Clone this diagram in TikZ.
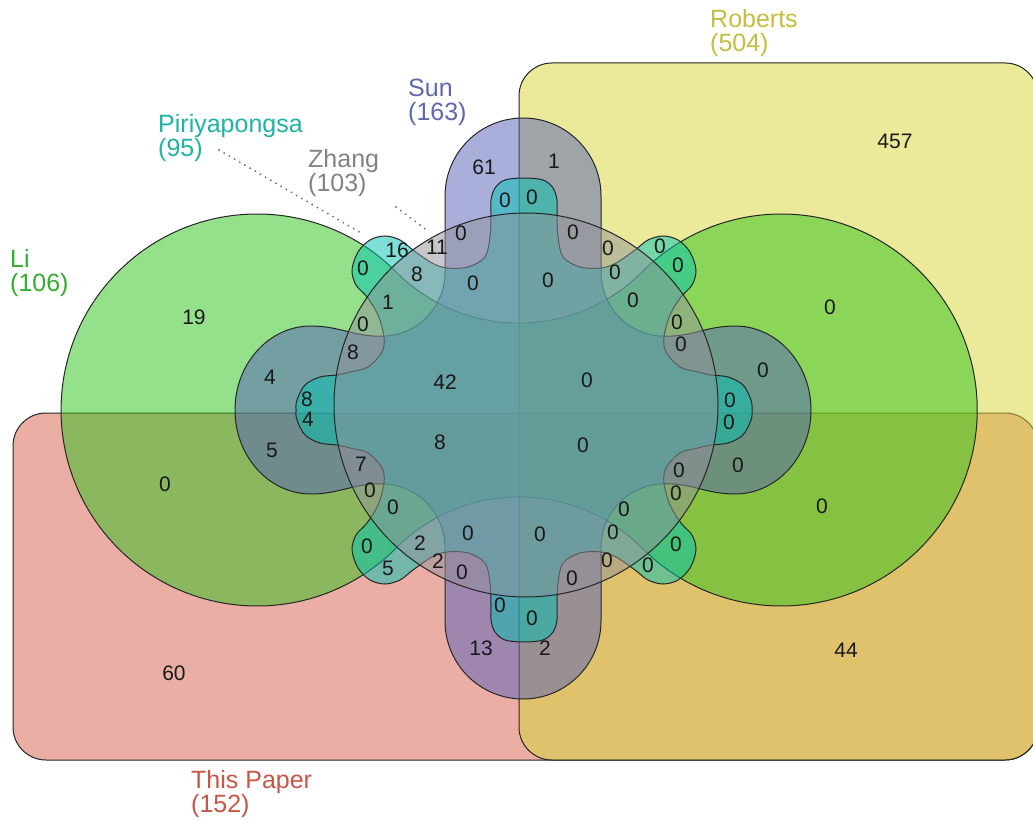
\documentclass[tikz,border=0pt]{standalone}
\usepackage{fontspec}
\setmainfont{Liberation Sans}
% set colours
\definecolor{tpcol}{RGB}{215,95,75}
\definecolor{robcol}{RGB}{215,215,55}
\definecolor{licol}{RGB}{45,195,25}
\definecolor{suncol}{RGB}{85,95,185}
\definecolor{piricol}{RGB}{0,195,178}
\definecolor{zhacol}{RGB}{145,145,155}
% label colours
\definecolor{tptxt}{RGB}{200,85,70}
\definecolor{robtxt}{RGB}{195,190,60}
\definecolor{litxt}{RGB}{50,175,45}
\definecolor{suntxt}{RGB}{95,105,175}
\definecolor{piritxt}{RGB}{30,180,165}
\definecolor{zhatxt}{RGB}{130,130,135}
\begin{document}
\begin{tikzpicture}[x=1pt,y=-1pt,
  setfill/.style={fill=#1, fill opacity=0.5, draw=black!85, line width=1pt},
  setname/.style={font=\fontsize{25}{24}\selectfont, text=#1, align=left,
                  anchor=north west, inner sep=0pt},
  count/.style={font=\fontsize{21}{21}\selectfont, text=black!90, inner sep=0pt},
  leader/.style={draw=black!55, line width=2.1pt, line cap=round,
                 dash pattern=on 0pt off 6pt}]
\useasboundingbox (0,0) rectangle (1033,821);
\fill[white] (0,0) rectangle (1033,821);

% This Paper: lower half
\path[setfill=tpcol, rounded corners=33pt] (13,413) rectangle (1038,760);
% Roberts: right half
\path[setfill=robcol, rounded corners=33pt] (519,63) rectangle (1038,760);

% Li: two lobes joined by a waist through the middle
\path[setfill=licol] (396.1,271.9)
  arc[start angle=-44.8, end angle=-315.2, radius=196]
  arc[start angle=-135.2, end angle=-44.8, radius=173.4]
  arc[start angle=135.2, end angle=-135.2, radius=196]
  arc[start angle=44.8, end angle=135.2, radius=173.4] -- cycle;

% Sun: cross with four rounded arms
\path[setfill=suncol] (445,196) arc[start angle=180, end angle=360, radius=78]
  -- (601,272)
  .. controls (601,305) and (625,333) .. (660,336)
  .. controls (690,338) and (705,326) .. (735,326)
  arc[start angle=-90, end angle=90, x radius=76, y radius=84]
  .. controls (705,494) and (690,482) .. (660,484)
  .. controls (625,487) and (601,515) .. (601,548)
  -- (601,621)
  arc[start angle=0, end angle=180, radius=78]
  -- (445,548)
  .. controls (445,515) and (421,487) .. (386,484)
  .. controls (356,482) and (341,494) .. (311,494)
  arc[start angle=90, end angle=270, x radius=76, y radius=84]
  .. controls (341,326) and (356,338) .. (386,336)
  .. controls (421,333) and (445,305) .. (445,272)
  -- cycle;

% Piriyapongsa: wavy ring with eight small lobes
\path[setfill=piricol] plot[smooth cycle, tension=0.55] coordinates {
  (524,178) (505,180) (495,188) (491,200) (491,215) (490,237) (485,257)
  (468,267) (447,268) (432,263) (413,250) (400,240) (385,236) (370,240)
  (358,252) (352,270) (356,285) (367,297) (378,315) (384,337) (382,352)
  (368,367) (350,372) (337,375) (320,377) (305,385) (297,400) (296,410)
  (297,420) (305,435) (320,443) (337,445) (350,448) (368,453) (382,468)
  (384,483) (378,505) (367,523) (356,535) (352,550) (358,568) (370,580)
  (385,584) (400,580) (413,570) (432,557) (447,552) (468,553) (485,563)
  (490,583) (491,605) (491,620) (495,632) (505,640) (524,642)
  (543,640) (553,632) (557,620) (557,605) (558,583) (563,563) (580,553)
  (601,552) (616,557) (635,570) (648,580) (663,584) (678,580) (690,568)
  (696,550) (692,535) (681,523) (670,505) (664,483) (666,468) (680,453)
  (698,448) (711,445) (728,443) (743,435) (751,420) (752,410)
  (751,400) (743,385) (728,377) (711,375) (698,372) (680,367) (666,352)
  (664,337) (670,315) (681,297) (692,285) (696,270) (690,252) (678,240)
  (663,236) (648,240) (635,250) (616,263) (601,268) (580,267) (563,257)
  (558,237) (557,215) (557,200) (553,188) (543,180)};

% Zhang: central circle
\path[setfill=zhacol] (526,405) circle[radius=192];

% set names
\node[setname=robtxt] (roberts) at (710,9) {Roberts\\(504)};
\node[setname=suntxt] (sun) at (408,79) {Sun\\(163)};
\node[setname=piritxt] (piri) at (158,114) {Piriyapongsa\\(95)};
\node[setname=zhatxt] (zhang) at (308,149) {Zhang\\(103)};
\node[setname=litxt] (li) at (10,249) {Li\\(106)};
\node[setname=tptxt] (paper) at (191,770) {This Paper\\(152)};

% dotted leaders
\coordinate (piritail) at (219,150);
\coordinate (pirihead) at (361,233);
\coordinate (zhatail) at (396,207);
\coordinate (zhahead) at (428,231);
\draw[leader] (piritail) -- (pirihead);
\draw[leader] (zhatail) -- (zhahead);

% region counts
\foreach \px/\py/\t [count=\i] in {
  194/317/19, 484/167/61, 437/247/11, 397/250/16, 270/377/4, 363/324/0,
  363/268/0, 461/233/0, 505/200/0, 417/274/8, 353/352/8, 307/399/8,
  388/302/1, 473/283/0, 445/382/42,
  895/141/457, 554/161/1, 532/197/0, 573/232/0, 608/248/0, 660/246/0,
  678/265/0, 615/272/0, 548/280/0, 633/300/0, 677/322/0, 681/344/0,
  587/380/0, 763/370/0, 730/400/0, 830/307/0,
  729/422/0, 738/465/0, 583/445/0, 846/650/44, 822/506/0, 545/648/2,
  532/618/0, 572/578/0, 607/560/0, 648/565/0, 676/544/0, 613/532/0,
  540/534/0, 624/509/0, 676/493/0, 679/470/0,
  174/673/60, 165/484/0, 481/648/13, 272/450/5, 308/419/4, 361/464/7,
  440/442/8, 370/490/0, 393/507/0, 367/546/0, 420/543/2, 438/561/2,
  388/568/5, 468/533/0, 462/572/0, 500/605/0}
  \node[count] (c\i) at (\px,\py) {\t};
\end{tikzpicture}
\end{document}
